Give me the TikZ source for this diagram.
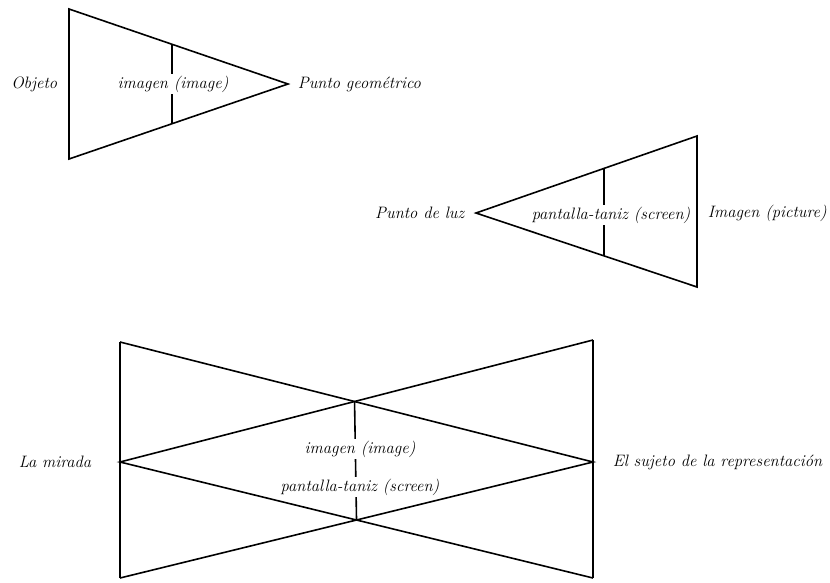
\documentclass[tikz,border=0pt]{standalone}
\usetikzlibrary{calc}

\tikzset{every picture/.style={line width=1.2pt}}
\tikzset{
  lbl/.style={inner sep=0.75pt, font=\fontsize{12.4}{14}\selectfont\itshape},
  scrlbl/.style={lbl, fill=white, inner sep=1.5pt}
}

\begin{document}
\begin{tikzpicture}[x=0.75pt,y=0.75pt,yscale=-1,xscale=1]
        \useasboundingbox (0,0) rectangle (830,582);

        %Triangle 1 [objeto - punto geometrico]
        \coordinate (a1) at (69,9);
        \coordinate (b1) at (69,159);
        \coordinate (p1) at (288,84);
        \draw [line join=miter] (a1) -- (p1) -- (b1) -- cycle ;
        %Straight Lines [imagen]
        \coordinate (s1t) at ($(a1)!0.47!(p1)$);
        \coordinate (s1b) at ($(b1)!0.47!(p1)$);
        \draw    (s1t) -- (s1b) ;

        % Text Node
        \node [lbl, anchor=east] (objeto) at (59,84) {Objeto};
        % Text Node
        \node [lbl, anchor=west] (geom) at (296,84) {Punto geométrico};
        % Text Node
        \node [scrlbl] (img1) at (173,84) {imagen (image)};

        %Triangle 2 [punto de luz - imagen]
        \coordinate (p2) at (476,213);
        \coordinate (a2) at (697,136);
        \coordinate (b2) at (697,287);
        \draw [line join=miter] (p2) -- (a2) -- (b2) -- cycle ;
        %Straight Lines [pantalla]
        \coordinate (s2t) at ($(p2)!0.579!(a2)$);
        \coordinate (s2b) at ($(p2)!0.579!(b2)$);
        \draw    (s2t) -- (s2b) ;

        % Text Node
        \node [lbl, anchor=east] (luz) at (466,213) {Punto de luz};
        % Text Node
        \node [lbl, anchor=west] (picture) at (706,213) {Imagen (picture)};
        % Text Node
        \node [scrlbl] (scr2) at (611,215) {pantalla-taniz (screen)};

        %Bow tie [la mirada - el sujeto]
        \coordinate (l1) at (120,342);
        \coordinate (l2) at (120,578);
        \coordinate (m1) at (120,462);
        \coordinate (r1) at (593,340);
        \coordinate (r2) at (593,578);
        \coordinate (m2) at (593,462);
        \draw    (l1) -- (l2) ;
        \draw    (r1) -- (r2) ;
        \draw    (l1) -- (m2) -- (l2) ;
        \draw    (r1) -- (m1) -- (r2) ;
        %Straight Lines [cruce]
        \coordinate (x1) at (intersection of l1--m2 and r1--m1);
        \coordinate (x2) at (intersection of l2--m2 and r2--m1);
        \draw    (x1) -- (x2) ;

        % Text Node
        \node [lbl, anchor=east] (mirada) at (93,462) {La mirada};
        % Text Node
        \node [lbl, anchor=west] (sujeto) at (611,462) {El sujeto de la representación};
        % Text Node
        \node [scrlbl] (img3) at (360,449) {imagen (image)};
        % Text Node
        \node [scrlbl] (scr3) at (360,487) {pantalla-taniz (screen)};

\end{tikzpicture}
\end{document}
